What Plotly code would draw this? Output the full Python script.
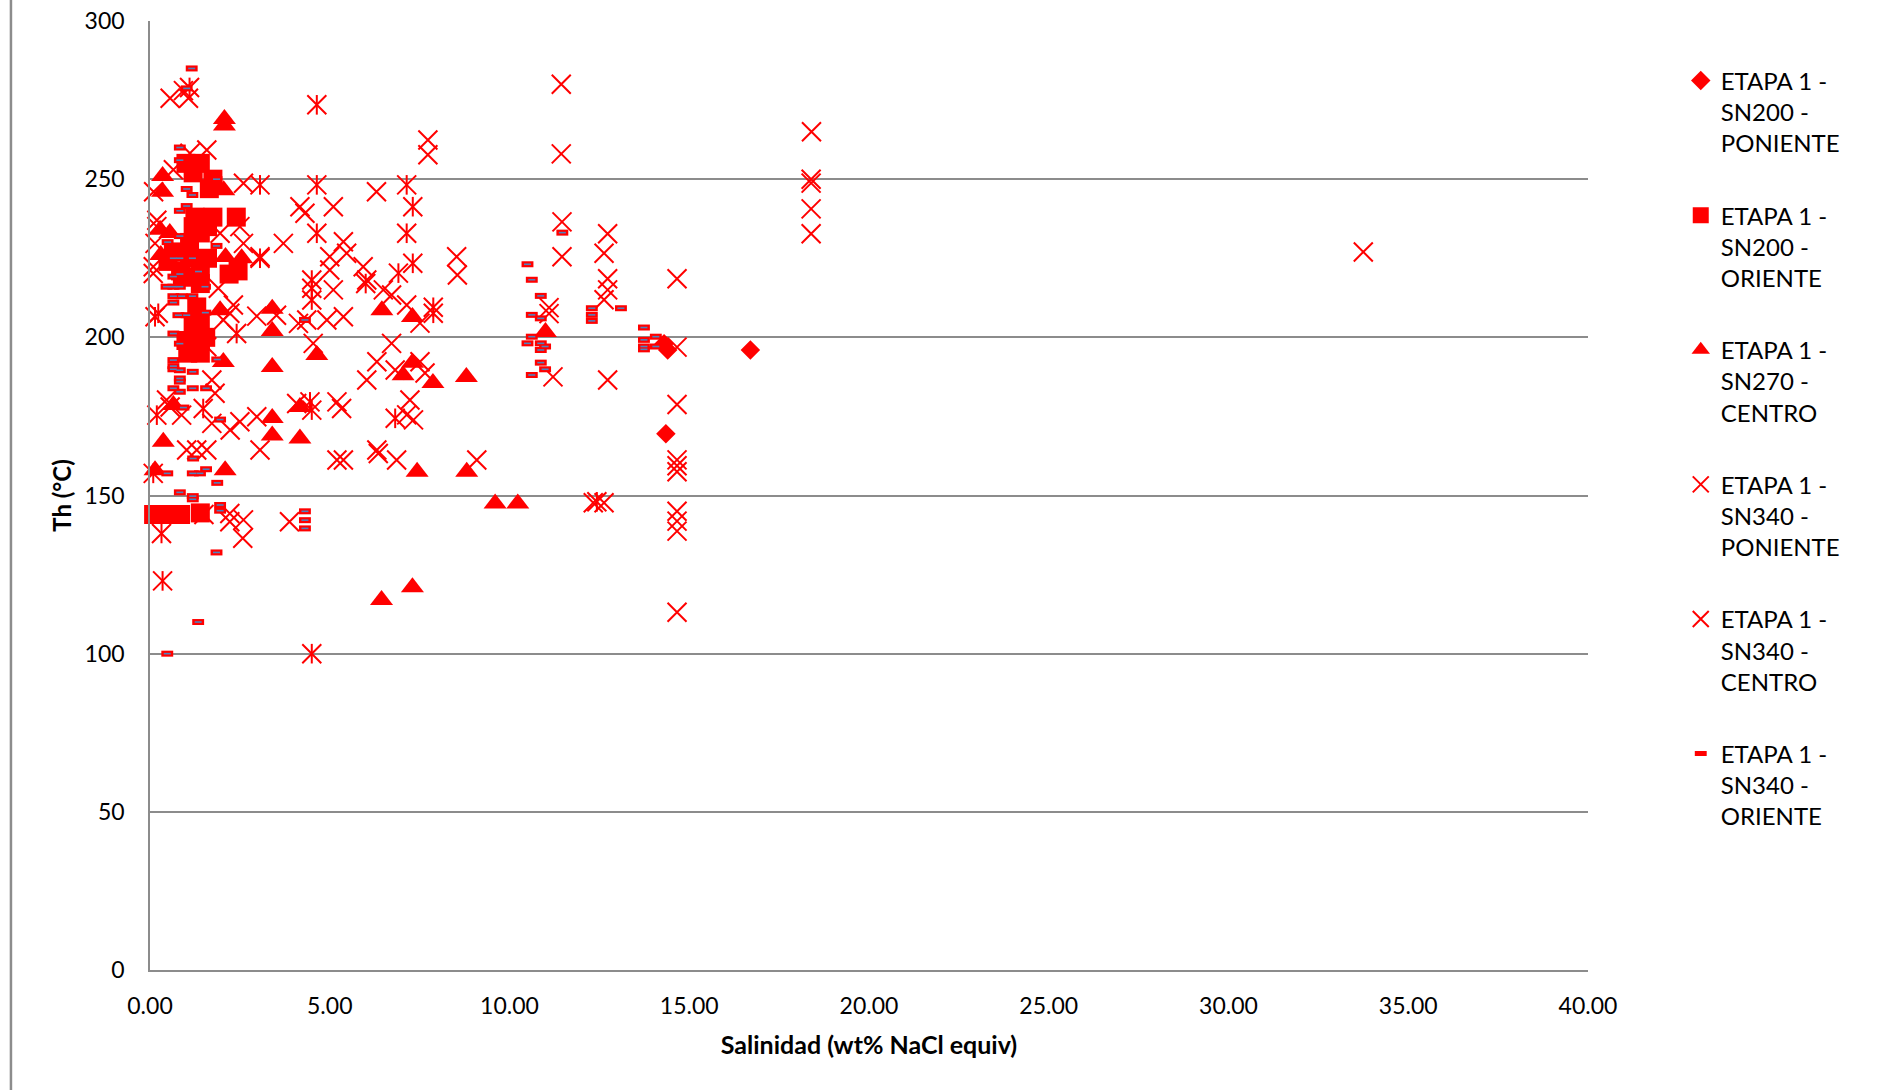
import plotly.graph_objects as go

# ---------------- DATA ----------------
names = [
    "ETAPA 1 -<br>SN200 -<br>PONIENTE",
    "ETAPA 1 -<br>SN200 -<br>ORIENTE",
    "ETAPA 1 -<br>SN270 -<br>CENTRO",
    "ETAPA 1 -<br>SN340 -<br>PONIENTE",
    "ETAPA 1 -<br>SN340 -<br>CENTRO",
    "ETAPA 1 -<br>SN340 -<br>ORIENTE",
]

sn200_poniente_x = [14.3, 14.4, 14.35, 16.7]
sn200_poniente_y = [198, 196, 169.5, 196]

sn200_oriente_x = [0.1, 0.35, 0.6, 0.85, 1.4,
                   1.0, 1.4, 1.05, 1.4, 1.25, 1.3, 1.4, 1.2, 1.55,
                   0.65, 1.1, 1.6, 0.85, 1.4, 2.2, 2.45, 1.4, 0.5, 0.9,
                   1.1, 1.4, 1.2, 1.6, 1.25, 1.75, 2.4,
                   1.0, 1.4, 1.75, 1.65, 1.2]
sn200_oriente_y = [144, 144, 144, 144, 144.5,
                   199, 199, 195, 195, 201, 209.6, 205.5, 204, 200,
                   227, 225, 225, 221, 221, 220, 221, 217, 224, 219,
                   230, 233, 235, 235, 238, 238, 238,
                   255, 255, 250, 247, 252]

sn270_centro_x = [2.07, 2.07, 0.35, 0.35, 2.05, 0.28, 0.55, 0.3, 2.1, 2.55,
                  1.95, 3.4, 3.4, 4.64, 2.04, 3.4, 0.65, 4.17, 3.4, 3.4,
                  4.17, 0.37, 0.14, 2.09, 6.45, 7.3, 11.0, 7.3, 7.04, 7.87,
                  8.8, 7.43, 8.81, 9.6, 10.23, 6.44, 7.3]
sn270_centro_y = [269, 267, 251, 246, 246.5, 234, 233, 226, 225.4, 225,
                  208.6, 209, 202, 194.4, 192.2, 190.6, 178.6, 178, 174.5, 169,
                  168, 167, 158, 158, 208.6, 206.4, 201.7, 192, 188, 185.6,
                  187.5, 157.5, 157.5, 147.5, 147.5, 117, 121]

sn340_poniente_x = [0.56, 0.93, 1.07, 11.44, 18.4, 7.73, 7.73, 11.44, 1.58, 1.11, 0.65,
                    2.6, 6.3, 0.1, 5.1, 4.17, 4.31, 3.71, 2.5, 1.95, 0.19, 0.19, 0.14,
                    0.09, 0.09, 2.6,
                    5.38, 5.47, 5.0, 5.0, 5.93, 6.03, 3.06, 1.9, 5.1, 6.49, 6.72, 7.14, 7.51,
                    8.53, 8.55, 11.46, 11.46, 12.73, 12.63, 12.73, 12.73, 12.63, 14.66,
                    11.1, 11.1,
                    18.39, 18.39, 18.39, 18.39, 33.75,
                    2.32, 2.22, 2.97, 3.52, 4.13, 5.38, 2.04, 4.36, 4.92, 4.54,
                    1.58, 1.72, 1.81, 0.46, 0.88, 1.72, 2.23, 2.5, 2.97, 3.06, 1.02,
                    1.3, 1.58, 4.08, 5.2, 5.2, 5.33, 6.03, 5.38, 6.35, 0.56,
                    6.72, 6.31, 6.82, 7.51, 7.65, 7.23, 7.14, 7.33, 6.31, 6.86, 9.09,
                    11.21, 12.73, 12.63, 12.33,
                    14.66, 14.66, 14.66, 14.66, 14.66, 14.66, 14.66, 14.66, 14.66,
                    2.22, 2.6, 2.58, 3.88, 1.5, 2.22]
sn340_poniente_y = [275.6, 278, 275.6, 280, 265, 262.4, 257.7, 258, 259.2, 258.2, 253,
                    248.7, 246, 246, 241.3, 241.3, 239.2, 229.7, 235, 232.9, 237, 235, 229.7,
                    222.3, 220.2, 229.7,
                    230.2, 226.6, 225.5, 221.3, 222.3, 218.1, 225.5, 215.5, 215, 215, 213.4, 210.2, 204.5,
                    225.5, 219.7, 236.5, 225.5, 232.75, 226.6, 218.5, 215, 211.9, 218.5,
                    209.4, 207.5,
                    250, 248.75, 240.6, 232.75, 227,
                    210.2, 207.6, 206.7, 207, 204.4, 206.5, 205.5, 205.5, 205.5, 198.1,
                    197, 186.5, 182.3, 180.2, 175.4, 172.8, 170.7, 173.3, 174.9, 164.4, 164.4,
                    164.4, 164.4, 179.1, 179.6, 161.2, 177.5, 186.5, 161.2, 163.3, 178,
                    198.1, 192.3, 189.7, 192.3, 188.7, 180.2, 175.5, 173.9, 164.4, 161.2, 161.2,
                    187.5, 186.5, 147.7, 147.7,
                    196.9, 178.75, 161.25, 159.4, 157.5, 145, 141.9, 138.75, 113.1,
                    141.7, 142.3, 136.5, 141.7, 144, 144.3]

sn340_centro_x = [1.1, 4.64, 3.06, 4.64, 4.64, 4.5, 4.5, 4.5, 7.14, 7.31, 7.14, 7.31,
                  6.91, 7.88, 7.88, 6.82, 2.41, 0.23, 0.14, 0.19, 1.48, 4.45, 4.5,
                  0.32, 0.35, 4.5, 12.43, 0.09, 6.0, 3.06]
sn340_centro_y = [279, 273.5, 248.2, 248.2, 232.9, 218.1, 215.5, 211.8, 248.2, 241.3, 232.9, 223.4,
                  220.3, 207.6, 209.5, 174.4, 201.2, 207.6, 206.5, 175.4, 177.5, 179.6, 177,
                  138, 123, 100, 148, 157, 217, 225]

sn340_oriente_x = [1.16, 1.02, 0.83, 0.83, 1.85, 1.02, 1.18, 1.02, 0.83, 0.83, 0.49, 1.85,
                   0.65, 0.83, 1.18, 1.35, 0.65, 0.83, 1.53, 0.46, 0.65, 0.83, 0.65, 0.88,
                   1.18, 0.65, 1.54, 1.02, 0.79, 0.65, 4.31, 0.83, 1.87, 0.65, 0.65, 0.65,
                   0.83, 1.19, 0.83, 0.83, 0.65, 1.19, 1.56, 0.83, 1.95, 0.93, 1.2, 1.56,
                   0.48, 1.19, 1.39, 1.87, 0.83, 1.19, 1.19, 1.95, 1.95, 4.31, 4.31, 4.31,
                   1.85, 1.34, 0.48,
                   10.5, 10.62, 10.87, 11.47, 10.62, 10.87, 10.62, 10.5, 10.87, 10.99, 10.87,
                   10.87, 10.99, 10.62, 12.29, 12.29, 12.29, 13.1, 13.74, 13.74, 13.74, 13.74,
                   14.07, 14.07]
sn340_oriente_y = [285, 278.7, 260, 256, 250, 246.9, 245, 241.5, 240, 232, 230.1, 228.9,
                   225, 225, 225, 220.8, 219.2, 220, 216, 216, 216, 216, 213, 213,
                   213, 211, 207.8, 207, 207, 201.2, 205.5, 198, 193, 192.8, 190.9, 189.9,
                   189.6, 189.1, 187, 186, 183.9, 183.9, 183.9, 182.8, 174, 177.8, 161.7, 158.3,
                   157, 157, 157, 154, 151, 149.8, 148.8, 147, 145.2, 145, 142.2, 139.6,
                   132, 110, 100,
                   223.1, 218.2, 213.1, 233.1, 207.1, 206, 200.2, 198.1, 198.1, 197.1, 196,
                   192, 189.9, 188.1, 209.2, 207.1, 205.2, 209.2, 203.1, 199.2, 197.1, 196.2,
                   200.2, 197.1]

x_ticks = [0, 5, 10, 15, 20, 25, 30, 35, 40]
y_ticks = [0, 50, 100, 150, 200, 250, 300]
x_title = "Salinidad (wt% NaCl equiv)"
y_title = "Th (°C)"

# ---------------- STYLE ----------------
RED = "#ff0000"
GRID = "#8c8c8c"
FONT = "Lato"

fig = go.Figure()

def add(x, y, name, marker, showlegend=True, group=None):
    fig.add_trace(go.Scatter(
        x=x, y=y, mode="markers", name=name, marker=marker,
        showlegend=showlegend, legendgroup=group or name, cliponaxis=False,
        hoverinfo="x+y",
    ))

add(sn200_poniente_x, sn200_poniente_y, names[0],
    dict(symbol="diamond", size=15, color=RED, line=dict(width=0)), group="g0")
add(sn200_oriente_x, sn200_oriente_y, names[1],
    dict(symbol="square", size=19, color=RED, line=dict(width=0)), group="g1")
add(sn270_centro_x, sn270_centro_y, names[2],
    dict(symbol="triangle-up", size=20, color=RED, line=dict(width=0)), group="g2")
add(sn340_poniente_x, sn340_poniente_y, names[3],
    dict(symbol="x-thin-open", size=19, color=RED, line=dict(width=2, color=RED)), group="g3")
add(sn340_centro_x, sn340_centro_y, names[4],
    dict(symbol="x-thin-open", size=19, color=RED, line=dict(width=2, color=RED)), group="g4")
add(sn340_centro_x, sn340_centro_y, names[4],
    dict(symbol="line-ns-open", size=14, color=RED, line=dict(width=2, color=RED)),
    showlegend=False, group="g4")
add(sn340_oriente_x, sn340_oriente_y, names[5],
    dict(symbol="line-ew-open", size=8.5, color=RED, line=dict(width=6, color=RED)), group="g5")
add(sn340_oriente_x, sn340_oriente_y, names[5],
    dict(symbol="line-ew-open", size=5, color="#4f81bd", line=dict(width=1.6, color="#4f81bd")),
    showlegend=False, group="g5")

fig.update_layout(
    width=1884, height=1090,
    margin=dict(l=150, r=296, t=21, b=120, autoexpand=False),
    paper_bgcolor="white", plot_bgcolor="white",
    font=dict(family=FONT, size=23, color="#000000"),
    showlegend=True,
    legend=dict(
        x=1.0645, xanchor="left", y=0.9605, yanchor="top", valign="top",
        font=dict(family=FONT, size=24, color="#000000"),
        traceorder="grouped", tracegroupgap=38, itemsizing="trace",
        bgcolor="rgba(0,0,0,0)",
    ),
    xaxis=dict(
        range=[0, 40], tickvals=x_ticks, tickformat=".2f",
        showgrid=False, zeroline=False, showline=True, linecolor=GRID, linewidth=1.5,
        ticks="", ticklabelstandoff=15,
        title=dict(text=f"<b>{x_title}</b>", font=dict(family=FONT, size=25), standoff=18),
    ),
    yaxis=dict(
        range=[0, 300], tickvals=y_ticks,
        showgrid=True, gridcolor=GRID, gridwidth=1.5,
        zeroline=False, showline=True, linecolor=GRID, linewidth=1.5,
        ticks="", ticklabelstandoff=19,
        title=dict(text=f"<b>{y_title}</b>", font=dict(family=FONT, size=24), standoff=6),
    ),
    shapes=[dict(type="line", xref="paper", yref="paper",
                 x0=-0.0967, x1=-0.0967, y0=-0.2, y1=1.1,
                 line=dict(color="#8c8c8c", width=2.5))],
)

fig.write_html("out.html")
